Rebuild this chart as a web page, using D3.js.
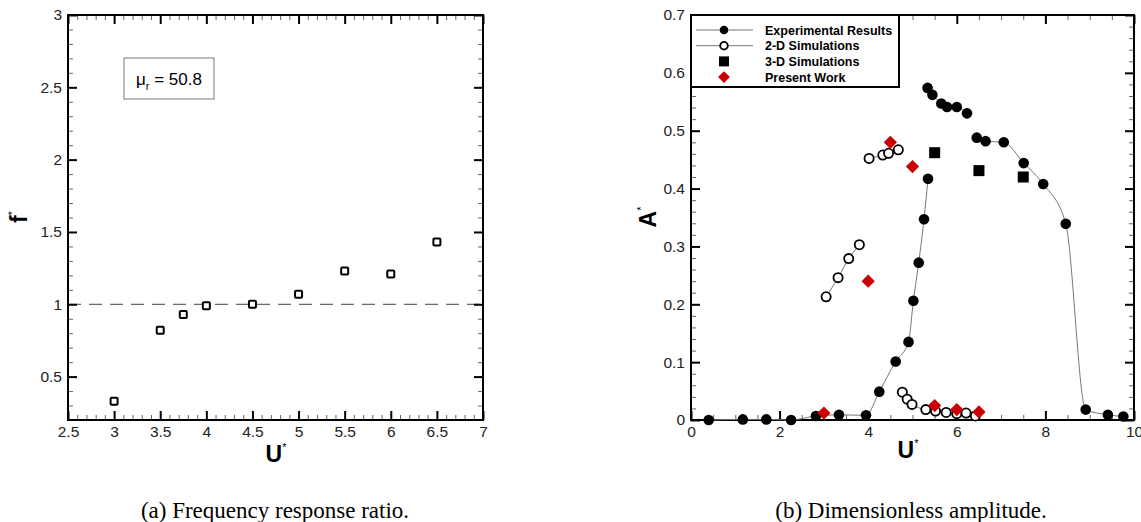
<!DOCTYPE html>
<html>
<head>
<meta charset="utf-8">
<script src="https://cdn.jsdelivr.net/npm/d3@7"></script>
<style>
  body { margin: 0; background: #fff; }
  text { font-family: "Liberation Sans", Arial, sans-serif; }
  .caption { font-family: "Liberation Serif", "Times New Roman", serif; font-size: 23px; }
</style>
</head>
<body>
<svg id="chart" width="1141" height="522"></svg>
<script>
// ---- panel (a): frequency response ratio
var freqU = [3, 3.5, 3.75, 4, 4.5, 5, 5.5, 6, 6.5]
var freqRatio = [0.33, 0.82, 0.93, 0.99, 1.0, 1.07, 1.23, 1.21, 1.43]
var freqXTicks = [2.5, 3, 3.5, 4, 4.5, 5, 5.5, 6, 6.5, 7]
var freqYTicks = [0.5, 1, 1.5, 2, 2.5, 3]

// ---- panel (b): dimensionless amplitude
// experimental results, split where the line breaks
var expBranch1 = [[0.40, 0.0], [1.17, 0.001], [1.70, 0.001], [2.26, 0.0], [2.82, 0.007], [3.34, 0.009],
  [3.95, 0.008], [4.25, 0.049], [4.62, 0.101], [4.91, 0.135], [5.02, 0.206], [5.14, 0.272],
  [5.26, 0.347], [5.35, 0.417]]
var expBranch2 = [[5.34, 0.574], [5.45, 0.562], [5.65, 0.547], [5.78, 0.541], [6.0, 0.541], [6.23, 0.530]]
var expBranch3 = [[6.45, 0.488], [6.65, 0.482], [7.06, 0.480], [7.51, 0.444], [7.95, 0.408],
  [8.46, 0.339], [8.91, 0.018], [9.41, 0.009], [9.76, 0.006]]
// 2-D simulations
var sim2dBranch1 = [[3.05, 0.213], [3.32, 0.246], [3.56, 0.279], [3.80, 0.303]]
var sim2dBranch2 = [[4.02, 0.452], [4.33, 0.458], [4.46, 0.461], [4.68, 0.467]]
var sim2dBranch3 = [[4.77, 0.048], [4.88, 0.036], [4.99, 0.027], [5.30, 0.018], [5.52, 0.0155],
  [5.76, 0.013], [6.0, 0.011], [6.21, 0.012], [6.42, 0.007]]
// 3-D simulations
var sim3dU = [5.5, 6.5, 7.5]
var sim3dA = [0.462, 0.431, 0.420]
// present work
var presentU = [3, 4, 4.5, 5, 5.5, 6, 6.5]
var presentA = [0.012, 0.240, 0.480, 0.438, 0.025, 0.018, 0.014]
var ampXTicks = [0, 2, 4, 6, 8, 10]
var ampYTicks = [0, 0.1, 0.2, 0.3, 0.4, 0.5, 0.6, 0.7]
var legendLabels = ["Experimental Results", "2-D Simulations", "3-D Simulations", "Present Work"]

var svg = d3.select("#chart")

var drawFrame = function(g, x, y, xTicks, yTicks, xMinor, yMinor){
  var w = x.range()[1], h = y.range()[0]
  var minorX = d3.range(x.domain()[0], x.domain()[1] + 1e-9, xMinor).filter(function(v){
    return !xTicks.some(function(t){ return Math.abs(t - v) < 1e-6 })
  })
  var minorY = d3.range(y.domain()[0], y.domain()[1] + 1e-9, yMinor).filter(function(v){
    return !yTicks.some(function(t){ return Math.abs(t - v) < 1e-6 })
  })

  // minor ticks, all four sides
  var styleMinor = function(sel){
    sel.select(".domain").remove()
    sel.selectAll("line").attr("stroke", "#666").attr("stroke-width", 1)
    sel.selectAll("text").remove()
  }
  g.append("g").attr("transform", "translate(0," + h + ")")
    .call(d3.axisBottom(x).tickValues(minorX).tickSize(-5)).call(styleMinor)
  g.append("g")
    .call(d3.axisTop(x).tickValues(minorX).tickSize(-5)).call(styleMinor)
  g.append("g")
    .call(d3.axisLeft(y).tickValues(minorY).tickSize(-5)).call(styleMinor)
  g.append("g").attr("transform", "translate(" + w + ",0)")
    .call(d3.axisRight(y).tickValues(minorY).tickSize(-5)).call(styleMinor)

  var styleMajor = function(sel){
    sel.select(".domain").remove()
    sel.selectAll("line").attr("stroke", "#000").attr("stroke-width", 2)
    sel.selectAll("text").attr("font-size", 15.5).attr("fill", "#222")
      .attr("font-family", "Liberation Sans, Arial, sans-serif")
  }
  g.append("g").attr("transform", "translate(0," + h + ")")
    .call(d3.axisBottom(x).tickValues(xTicks).tickSize(-9).tickPadding(6).tickFormat(d3.format("")))
    .call(styleMajor)
  g.append("g")
    .call(d3.axisTop(x).tickValues(xTicks).tickSize(-9).tickFormat(""))
    .call(styleMajor)
  g.append("g")
    .call(d3.axisLeft(y).tickValues(yTicks).tickSize(-9).tickPadding(6).tickFormat(d3.format("")))
    .call(styleMajor)
  g.append("g").attr("transform", "translate(" + w + ",0)")
    .call(d3.axisRight(y).tickValues(yTicks).tickSize(-9).tickFormat(""))
    .call(styleMajor)

  g.append("rect").attr("width", w).attr("height", h)
    .attr("fill", "none").attr("stroke", "#000").attr("stroke-width", 2)
}

var axisTitle = function(g, px, py, rotate, letter){
  var t = g.append("text").attr("transform", "translate(" + px + "," + py + ")" + (rotate ? " rotate(-90)" : ""))
    .attr("text-anchor", "middle").attr("font-weight", "bold").attr("font-size", 23)
  t.append("tspan").text(letter)
  t.append("tspan").text("*").attr("font-size", 11).attr("dy", -11).attr("font-weight", "normal")
}

// ================= panel (a)
var gA = svg.append("g").attr("transform", "translate(68,15)")
var xA = d3.scaleLinear().domain([2.5, 7]).range([0, 415])
var yA = d3.scaleLinear().domain([0.2, 3]).range([405, 0])

gA.append("line")
  .attr("x1", xA(2.5)).attr("x2", xA(7)).attr("y1", yA(1)).attr("y2", yA(1))
  .attr("stroke", "#444").attr("stroke-width", 1).attr("stroke-dasharray", "13,8")

drawFrame(gA, xA, yA, freqXTicks, freqYTicks, 0.1, 0.1)

gA.selectAll("rect.pt").data(freqU).enter().append("rect")
  .attr("class", "pt")
  .attr("x", function(d){ return xA(d) - 3.5 })
  .attr("y", function(d, i){ return yA(freqRatio[i]) - 3.5 })
  .attr("width", 7).attr("height", 7).attr("rx", 1)
  .attr("fill", "#fff").attr("stroke", "#000").attr("stroke-width", 2)

// mu_r box
var box = gA.append("g").attr("transform", "translate(56,43)")
box.append("rect").attr("width", 90).attr("height", 41)
  .attr("fill", "#fff").attr("stroke", "#777").attr("stroke-width", 1)
var mu = box.append("text").attr("x", 45).attr("y", 27).attr("text-anchor", "middle").attr("font-size", 17)
mu.append("tspan").text("\u03bc")
mu.append("tspan").text("r").attr("font-size", 11).attr("dy", 5)
mu.append("tspan").text(" = 50.8").attr("dy", -5)

axisTitle(svg, 27, 217, true, "f")
axisTitle(svg, 276, 462, false, "U")

svg.append("text").attr("class", "caption").attr("x", 275).attr("y", 518)
  .attr("text-anchor", "middle").text("(a)  Frequency response ratio.")

// ================= panel (b)
var gB = svg.append("g").attr("transform", "translate(691,15)")
var xB = d3.scaleLinear().domain([0, 10]).range([0, 443])
var yB = d3.scaleLinear().domain([0, 0.7]).range([405, 0])

drawFrame(gB, xB, yB, ampXTicks, ampYTicks, 0.5, 0.02)

var line = d3.line().x(function(d){ return xB(d[0]) }).y(function(d){ return yB(d[1]) })
  .curve(d3.curveMonotoneX)

var plotArea = gB.append("g")
;[expBranch1, expBranch2, expBranch3, sim2dBranch1, sim2dBranch2, sim2dBranch3].forEach(function(b){
  plotArea.append("path").datum(b).attr("d", line)
    .attr("fill", "none").attr("stroke", "#777").attr("stroke-width", 1)
})

;[sim2dBranch1, sim2dBranch2, sim2dBranch3].forEach(function(b){
  plotArea.selectAll(null).data(b).enter().append("circle")
    .attr("cx", function(d){ return xB(d[0]) }).attr("cy", function(d){ return yB(d[1]) })
    .attr("r", 4.6).attr("fill", "#fff").attr("stroke", "#000").attr("stroke-width", 1.8)
})

;[expBranch1, expBranch2, expBranch3].forEach(function(b){
  plotArea.selectAll(null).data(b).enter().append("circle")
    .attr("cx", function(d){ return xB(d[0]) }).attr("cy", function(d){ return yB(d[1]) })
    .attr("r", 5.3).attr("fill", "#000")
})

plotArea.selectAll(null).data(sim3dU).enter().append("rect")
  .attr("x", function(d){ return xB(d) - 5.5 })
  .attr("y", function(d, i){ return yB(sim3dA[i]) - 5.5 })
  .attr("width", 11).attr("height", 11).attr("fill", "#000")

var diamond = d3.symbol().type(d3.symbolSquare).size(88)
plotArea.selectAll(null).data(presentU).enter().append("path")
  .attr("d", diamond)
  .attr("transform", function(d, i){ return "translate(" + xB(d) + "," + yB(presentA[i]) + ") rotate(45)" })
  .attr("fill", "#cc0000")

// legend
var leg = gB.append("g")
leg.append("rect").attr("width", 208).attr("height", 72)
  .attr("fill", "#fff").attr("stroke", "#000").attr("stroke-width", 2)
legendLabels.forEach(function(label, i){
  var ly = 15 + i * 15.7
  var row = leg.append("g").attr("transform", "translate(0," + ly + ")")
  if (i < 2) {
    row.append("line").attr("x1", 5).attr("x2", 62).attr("y1", 0).attr("y2", 0)
      .attr("stroke", "#777").attr("stroke-width", 1)
  }
  if (i === 0) row.append("circle").attr("cx", 33).attr("r", 4.3).attr("fill", "#000")
  if (i === 1) row.append("circle").attr("cx", 33).attr("r", 3.8).attr("fill", "#fff")
    .attr("stroke", "#000").attr("stroke-width", 1.8)
  if (i === 2) row.append("rect").attr("x", 28).attr("y", -5).attr("width", 10).attr("height", 10).attr("fill", "#000")
  if (i === 3) row.append("path").attr("d", d3.symbol().type(d3.symbolSquare).size(70))
    .attr("transform", "translate(33,0) rotate(45)").attr("fill", "#cc0000")
  row.append("text").attr("x", 74).attr("y", 4.5).attr("font-size", 12.5).attr("font-weight", "bold")
    .text(label)
})

axisTitle(svg, 656, 217, true, "A")
axisTitle(svg, 908, 458, false, "U")

svg.append("text").attr("class", "caption").attr("x", 911).attr("y", 518)
  .attr("text-anchor", "middle").text("(b)  Dimensionless amplitude.")
</script>
</body>
</html>
